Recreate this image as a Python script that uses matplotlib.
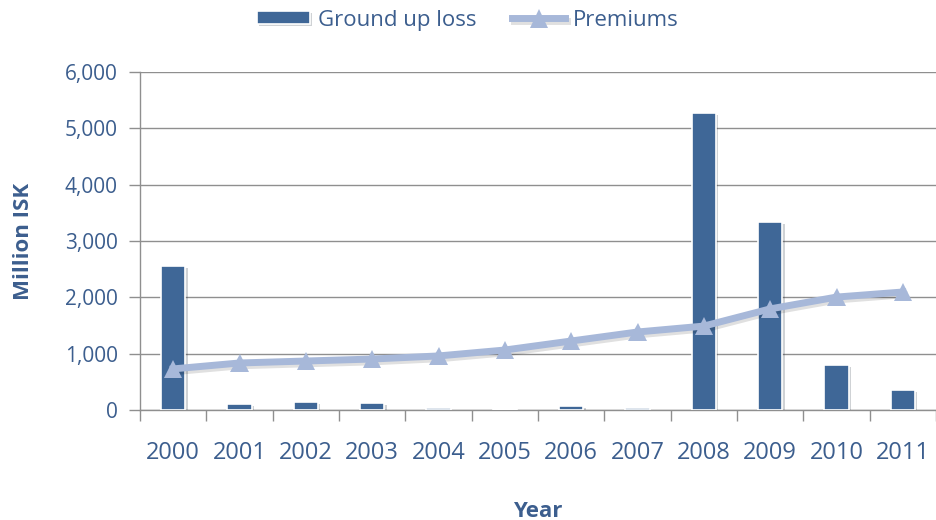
import numpy as np
import matplotlib.pyplot as plt
import matplotlib.patheffects as pe
from matplotlib.ticker import FuncFormatter

plt.rcParams['font.family'] = ['Open Sans', 'DejaVu Sans']

years = ['2000', '2001', '2002', '2003', '2004', '2005',
         '2006', '2007', '2008', '2009', '2010', '2011']
ground_up_loss = [2560, 110, 140, 125, 40, 10, 75, 35, 5270, 3340, 800, 360]
premiums = [730, 835, 870, 905, 960, 1065, 1225, 1385, 1490, 1795, 2005, 2095]

bar_color = '#3F6797'
line_color = '#A7B8D9'
text_color = '#3C5E8E'
grid_color = '#8F8F8F'

fig = plt.figure(figsize=(9.36, 5.2), dpi=100)
ax = fig.add_axes([0.1496, 0.2115, 0.8504, 0.65])

x = np.arange(len(years))

bars = ax.bar(x, ground_up_loss, width=0.37, color=bar_color,
              edgecolor='white', linewidth=1.2, label='Ground up loss', zorder=3,
              path_effects=[pe.SimplePatchShadow(offset=(1.5, -1.5), alpha=0.2),
                            pe.Normal()])

line, = ax.plot(x, premiums, color=line_color, linewidth=5, marker='^', markersize=13,
                markeredgewidth=0, label='Premiums', zorder=4,
                path_effects=[pe.SimpleLineShadow(offset=(1, -2), alpha=0.12),
                              pe.Normal()])

ax.set_ylim(0, 6000)
ax.set_yticks(np.arange(0, 6001, 1000))
ax.yaxis.set_major_formatter(FuncFormatter(lambda v, p: f'{int(v):,}'))
ax.set_xlim(-0.5, 11.45)

# category labels in the middle, tick marks between categories
ax.set_xticks(x)
ax.set_xticklabels(years)
ax.set_xticks(np.arange(-0.5, 12, 1), minor=True)
ax.tick_params(axis='x', which='major', length=0, pad=22, labelsize=17, labelcolor=text_color)
ax.tick_params(axis='x', which='minor', length=8, width=1, color=grid_color)
ax.tick_params(axis='y', length=8, width=1, color=grid_color, pad=8,
               labelsize=15, labelcolor=text_color)

ax.grid(axis='y', color=grid_color, linewidth=1, zorder=0)
ax.set_axisbelow(True)
for side in ['top', 'right']:
    ax.spines[side].set_visible(False)
for side in ['left', 'bottom']:
    ax.spines[side].set_color(grid_color)
    ax.spines[side].set_linewidth(1)

ax.set_xlabel('Year', fontsize=16, fontweight='bold', color=text_color, labelpad=26)
ax.set_ylabel('Million ISK', fontsize=16, fontweight='bold', color=text_color, labelpad=22)

fig.legend([bars, line], ['Ground up loss', 'Premiums'], loc='upper center',
           bbox_to_anchor=(0.5, 1.02), ncol=2, frameon=False,
           fontsize=16, handlelength=2.4, handleheight=0.5, columnspacing=1.6,
           handletextpad=0.35, labelcolor=text_color)

fig.savefig('out.png', dpi=100)
